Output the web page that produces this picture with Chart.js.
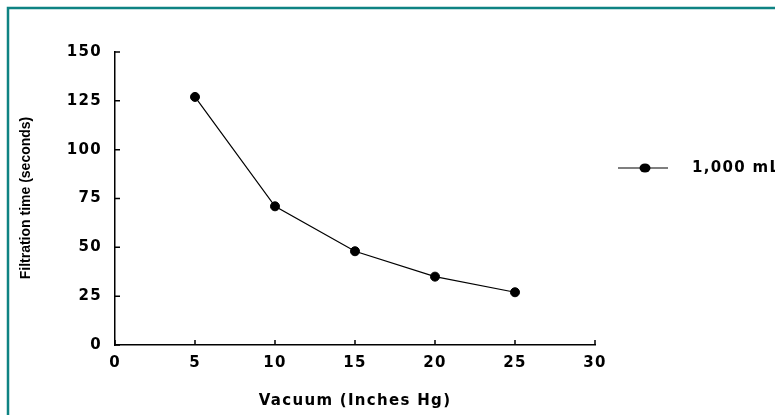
<!DOCTYPE html>
<html>
<head>
<meta charset="utf-8">
<script src="https://cdn.jsdelivr.net/npm/chart.js@4.4.1/dist/chart.umd.min.js"></script>
<style>
  html, body { margin: 0; padding: 0; background: #fff; overflow: hidden; }
  #wrap { width: 775px; height: 415px; }
</style>
</head>
<body>
<div id="wrap"><canvas id="myChart"></canvas></div>
<script>
// datos
const vacio = [5, 10, 15, 20, 25];
const tiempos = [127, 71, 48, 35, 27];
const serie = '1,000 mL';
const tituloX = 'Vacuum (Inches Hg)';
const tituloY = 'Filtration time (seconds)';

const fuente = 'DejaVu Sans';
const sep = '1.3px';

// espaciado de letras y marco
const espaciado = {
  id: 'espaciado',
  beforeUpdate(chart) { chart.ctx.letterSpacing = sep; },
  beforeDraw(chart) {
    const ctx = chart.ctx;
    ctx.letterSpacing = sep;
    // marco verde azulado
    ctx.save();
    ctx.strokeStyle = '#0f8383';
    ctx.lineWidth = 2.5;
    ctx.beginPath();
    ctx.moveTo(8, chart.height + 5);
    ctx.lineTo(8, 8);
    ctx.lineTo(chart.width + 5, 8);
    ctx.stroke();
    ctx.restore();
  }
};

// marcas hacia dentro, titulo Y y leyenda
const extras = {
  id: 'extras',
  afterDraw(chart) {
    const ctx = chart.ctx;
    const x = chart.scales.x, y = chart.scales.y;
    ctx.save();
    ctx.strokeStyle = '#000';
    ctx.lineWidth = 1.5;
    ctx.beginPath();
    x.ticks.forEach(t => {
      const px = x.getPixelForValue(t.value);
      ctx.moveTo(px, x.top);
      ctx.lineTo(px, x.top - 5);
    });
    y.ticks.forEach(t => {
      const py = y.getPixelForValue(t.value);
      ctx.moveTo(y.right, py);
      ctx.lineTo(y.right + 5, py);
    });
    ctx.stroke();

    // titulo del eje Y (condensado)
    ctx.letterSpacing = '0px';
    ctx.fillStyle = '#000';
    ctx.font = 'bold 14px "Liberation Sans Narrow", "Liberation Sans", sans-serif';
    ctx.translate(26, 198);
    ctx.rotate(-Math.PI / 2);
    ctx.textAlign = 'center';
    ctx.textBaseline = 'middle';
    ctx.fillText(tituloY, 0, 0);
    ctx.restore();

    // leyenda
    const ds = chart.data.datasets[0];
    const ly = 168;
    ctx.save();
    ctx.strokeStyle = ds.borderColor;
    ctx.lineWidth = 1.2;
    ctx.beginPath();
    ctx.moveTo(618, ly);
    ctx.lineTo(668, ly);
    ctx.stroke();
    ctx.fillStyle = ds.pointBackgroundColor;
    ctx.beginPath();
    ctx.ellipse(645, ly, 5.5, 4.5, 0, 0, Math.PI * 2);
    ctx.fill();
    ctx.letterSpacing = sep;
    ctx.font = 'bold 15px "' + fuente + '"';
    ctx.textAlign = 'left';
    ctx.textBaseline = 'middle';
    ctx.fillText(ds.label, 692, ly);
    ctx.restore();
  }
};

const ctx = document.getElementById('myChart').getContext('2d');
const myChart = new Chart(ctx, {
  type: 'line',
  data: {
    labels: vacio,
    datasets: [{
      label: serie,
      data: vacio.map((v, i) => ({ x: v, y: tiempos[i] })),
      borderColor: '#000',
      borderWidth: 1.2,
      pointBackgroundColor: '#000',
      pointBorderColor: '#000',
      pointBorderWidth: 1,
      pointRadius: 4.5,
      pointHoverRadius: 4.5,
      tension: 0
    }]
  },
  options: {
    responsive: true,
    maintainAspectRatio: false,
    animation: false,
    events: [],
    layout: { padding: { top: 52, right: 180, left: 0, bottom: 5 } },
    plugins: {
      legend: { display: false },
      tooltip: { enabled: false }
    },
    scales: {
      x: {
        type: 'linear',
        min: 0, max: 30,
        grid: { display: false, drawTicks: false },
        border: { display: true, color: '#000', width: 1.5 },
        ticks: {
          stepSize: 5, padding: 9, color: '#000',
          font: { family: fuente, size: 15, weight: 'bold' }
        },
        title: {
          display: true, text: tituloX, color: '#000',
          font: { family: fuente, size: 15, weight: 'bold' },
          padding: { top: 18, bottom: 0 }
        },
        afterFit(s) { s.height = 65; }
      },
      y: {
        min: 0, max: 150,
        grid: { display: false, drawTicks: false },
        border: { display: true, color: '#000', width: 1.5 },
        ticks: {
          stepSize: 25, padding: 13, color: '#000',
          font: { family: fuente, size: 15, weight: 'bold' }
        },
        afterFit(s) { s.width = 115; }
      }
    }
  },
  plugins: [espaciado, extras]
});
</script>
</body>
</html>
